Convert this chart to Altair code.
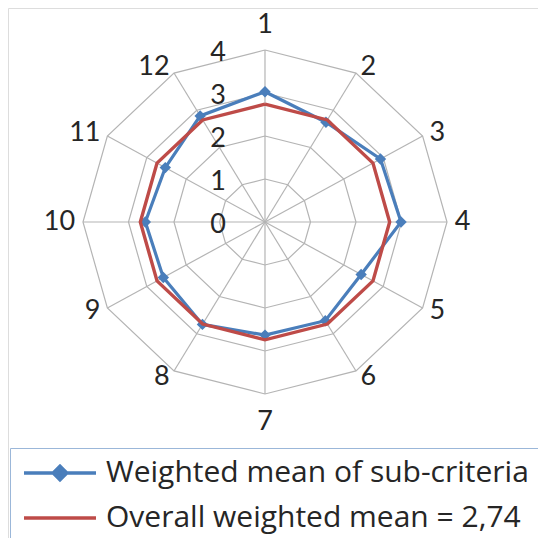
import altair as alt
import pandas as pd

# ---- data ----
spokes = [1, 2, 3, 4, 5, 6, 7, 8, 9, 10, 11, 12]
weighted_means = [3.03, 2.68, 2.93, 2.99, 2.44, 2.65, 2.63, 2.75, 2.58, 2.63, 2.53, 2.85]
overall_mean = 2.74
levels = [0, 1, 2, 3, 4]
grid_max = 4
series_names = ["Weighted mean of sub-criteria", "Overall weighted mean = 2,74"]

BLUE = "#4a7ebb"
RED = "#be4b48"
GRID = "#b4b4b4"
TEXT = "#262626"
FONT = "Lato"

n = len(spokes)
closed_idx = list(range(n)) + [0]

# table for the two series (closed polygons)
series_rows = []
for order, k in enumerate(closed_idx):
    series_rows.append({"spoke": spokes[k], "order": order, "value": weighted_means[k], "series": series_names[0]})
    series_rows.append({"spoke": spokes[k], "order": order, "value": overall_mean, "series": series_names[1]})
series_df = pd.DataFrame(series_rows)

ring_rows = []
for lv in levels[1:]:
    for order, k in enumerate(closed_idx):
        ring_rows.append({"spoke": spokes[k], "order": order, "value": lv})
ring_df = pd.DataFrame(ring_rows)

spoke_df = pd.DataFrame({"spoke": spokes, "value": [grid_max] * n})
label_df = pd.DataFrame({"spoke": spokes, "label": [str(s) for s in spokes], "value": [grid_max] * n})
level_df = pd.DataFrame({"level": levels, "label": [str(l) for l in levels]})

ANG = "(datum.spoke - 1) * 2 * PI / 12"

xs = alt.Scale(domain=[-5.648, 6.0], nice=False, zero=False)
ys = alt.Scale(domain=[-7.349, 4.977], nice=False, zero=False)


def polar(ch, rexpr="datum.value"):
    return ch.transform_calculate(
        ang=ANG
    ).transform_calculate(
        px=f"{rexpr} * sin(datum.ang)", py=f"{rexpr} * cos(datum.ang)"
    )


X = alt.X("px:Q", scale=xs, axis=None)
Y = alt.Y("py:Q", scale=ys, axis=None)

rings = polar(alt.Chart(ring_df).mark_line(color=GRID, strokeWidth=1.2)).encode(
    x=X, y=Y, detail="value:N", order="order:Q"
)

spoke_lines = polar(alt.Chart(spoke_df).mark_rule(color=GRID, strokeWidth=1.2)).transform_calculate(
    ox="0", oy="0"
).encode(
    x=alt.X("ox:Q", scale=xs, axis=None), y=alt.Y("oy:Q", scale=ys, axis=None),
    x2="px:Q", y2="py:Q"
)

level_labels = alt.Chart(level_df).mark_text(
    font=FONT, fontSize=27, color=TEXT, align="center", baseline="middle", dx=-47, dy=3
).transform_calculate(px="0").encode(
    x=alt.X("px:Q", scale=xs, axis=None),
    y=alt.Y("level:Q", scale=ys, axis=None),
    text="label:N",
)

lab_base = polar(alt.Chart(label_df), "datum.value * 1.0375")


def spoke_text(flt, **kw):
    return lab_base.mark_text(font=FONT, fontSize=27, color=TEXT, baseline="middle", **kw).transform_filter(flt).encode(
        x=X, y=Y, text="label:N"
    )


lab_right = spoke_text("datum.spoke >= 2 && datum.spoke <= 6", align="left", dx=1)
lab_left = spoke_text("datum.spoke >= 8", align="right", dx=-1)
lab_top = spoke_text("datum.spoke == 1", align="center", dy=-19)
lab_bottom = spoke_text("datum.spoke == 7", align="center", dy=22)

blue_line = polar(alt.Chart(series_df).transform_filter(
    alt.datum.series == series_names[0])).mark_line(color=BLUE, strokeWidth=3.2).encode(
    x=X, y=Y, order="order:Q"
)
blue_pts = polar(alt.Chart(series_df).transform_filter(
    (alt.datum.series == series_names[0]) & (alt.datum.order < n))).mark_point(
    shape="diamond", filled=True, color=BLUE, size=130, opacity=1
).encode(x=X, y=Y)

red_line = polar(alt.Chart(series_df).transform_filter(
    alt.datum.series == series_names[1])).mark_line(color=RED, strokeWidth=3.4).encode(
    x=X, y=Y, order="order:Q"
)

# legend-only layer (no visible marks), symbols drawn from the legend scales
PATH_BLUE = "M-4,0L4,0M0,-0.75L0.75,0L0,0.75L-0.75,0Z"
PATH_RED = "M-4,0L4,0"
leg = alt.Legend(
    title=None, orient="none", legendX=2, legendY=440,
    labelFont="Open Sans", labelFontSize=30, labelColor=TEXT, labelLimit=0,
    symbolSize=324, symbolStrokeWidth=3.5, symbolOffset=25, labelOffset=31,
    symbolOpacity=1,
    strokeColor="#9bb7d9", fillColor="white", padding=10, rowPadding=15,
)
legend_layer = polar(alt.Chart(series_df)).transform_filter("false").mark_point(
    filled=True, strokeWidth=3.5, opacity=1
).encode(
    x=X, y=Y,
    shape=alt.Shape("series:N", scale=alt.Scale(domain=series_names, range=[PATH_BLUE, PATH_RED]), legend=leg),
    fill=alt.Fill("series:N", scale=alt.Scale(domain=series_names, range=[BLUE, RED]), legend=leg),
    stroke=alt.Stroke("series:N", scale=alt.Scale(domain=series_names, range=[BLUE, RED]), legend=leg),
)

chart = alt.layer(
    rings, spoke_lines, level_labels, lab_right, lab_left, lab_top, lab_bottom,
    blue_line, blue_pts, red_line, legend_layer
).properties(
    width=530, height=530, padding=0, autosize=alt.AutoSizeParams(type="none")
).configure_view(stroke=None).configure(background="white")

chart.save("out.html", embed_options={"renderer": "svg", "actions": False})
